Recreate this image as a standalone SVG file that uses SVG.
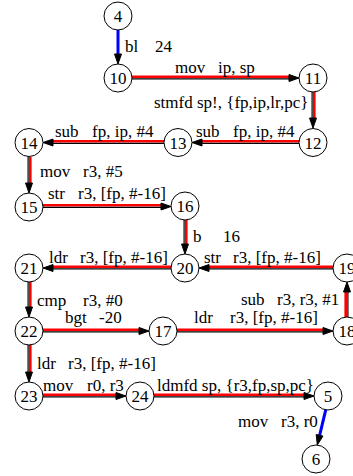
<svg xmlns="http://www.w3.org/2000/svg" width="353" height="476" viewBox="0 0 353 476">
<style>
.n circle{fill:#fff;stroke:#000;stroke-width:1}
.n text{font-family:"Liberation Serif","Times New Roman",serif;font-size:17px;text-anchor:middle;fill:#000}
.lbl{font-family:"Liberation Serif","Times New Roman",serif;font-size:17px;fill:#000}
.r{stroke:#ff0000;stroke-width:2.6;fill:none}
.k{stroke:#000;stroke-width:1.2;fill:none}
.b{stroke:#0000ff;stroke-width:3;fill:none}
.a{fill:#000;stroke:#000;stroke-width:1}
</style>
<rect width="353" height="476" fill="#fff"/>
<g id="edges">
<line class="b" x1="118" y1="30" x2="118" y2="54"/>
<polygon class="a" points="118,64 114.5,54 121.5,54"/>
<line class="r" x1="132" y1="76.7" x2="289" y2="76.7"/>
<line class="k" x1="132" y1="78.9" x2="289" y2="78.9"/>
<polygon class="a" points="299,78 289,74.5 289,81.5"/>
<line class="k" x1="312.1" y1="92" x2="312.1" y2="118"/>
<line class="r" x1="314.3" y1="92" x2="314.3" y2="118"/>
<polygon class="a" points="313,128 309.5,118 316.5,118"/>
<line class="r" x1="299" y1="141.2" x2="202" y2="141.2"/>
<line class="k" x1="299" y1="143.4" x2="202" y2="143.4"/>
<polygon class="a" points="192,142.5 202,139 202,146"/>
<line class="r" x1="164" y1="141.2" x2="53" y2="141.2"/>
<line class="k" x1="164" y1="143.4" x2="53" y2="143.4"/>
<polygon class="a" points="43,142.5 53,139 53,146"/>
<line class="k" x1="28.1" y1="157" x2="28.1" y2="183"/>
<line class="r" x1="30.3" y1="157" x2="30.3" y2="183"/>
<polygon class="a" points="29,193 25.5,183 32.5,183"/>
<line class="r" x1="43" y1="205.2" x2="161" y2="205.2"/>
<line class="k" x1="43" y1="207.4" x2="161" y2="207.4"/>
<polygon class="a" points="171,206.5 161,203 161,210"/>
<line class="k" x1="184.1" y1="220" x2="184.1" y2="244"/>
<line class="r" x1="186.3" y1="220" x2="186.3" y2="244"/>
<polygon class="a" points="185,254 181.5,244 188.5,244"/>
<line class="r" x1="333" y1="266.7" x2="209" y2="266.7"/>
<line class="k" x1="333" y1="268.9" x2="209" y2="268.9"/>
<polygon class="a" points="199,268 209,264.5 209,271.5"/>
<line class="r" x1="171" y1="266.7" x2="53" y2="266.7"/>
<line class="k" x1="171" y1="268.9" x2="53" y2="268.9"/>
<polygon class="a" points="43,268 53,264.5 53,271.5"/>
<line class="k" x1="28.1" y1="282" x2="28.1" y2="307"/>
<line class="r" x1="30.3" y1="282" x2="30.3" y2="307"/>
<polygon class="a" points="29,317 25.5,307 32.5,307"/>
<line class="r" x1="43" y1="329.7" x2="139" y2="329.7"/>
<line class="k" x1="43" y1="331.9" x2="139" y2="331.9"/>
<polygon class="a" points="149,331 139,327.5 139,334.5"/>
<line class="r" x1="177" y1="329.7" x2="323" y2="329.7"/>
<line class="k" x1="177" y1="331.9" x2="323" y2="331.9"/>
<polygon class="a" points="333,331 323,327.5 323,334.5"/>
<line class="r" x1="345.7" y1="317" x2="345.7" y2="292"/>
<line class="k" x1="347.9" y1="317" x2="347.9" y2="292"/>
<polygon class="a" points="347,282 343.5,292 350.5,292"/>
<line class="k" x1="28.1" y1="345" x2="28.1" y2="372"/>
<line class="r" x1="30.3" y1="345" x2="30.3" y2="372"/>
<polygon class="a" points="29,382 25.5,372 32.5,372"/>
<line class="r" x1="43" y1="394.7" x2="116" y2="394.7"/>
<line class="k" x1="43" y1="396.9" x2="116" y2="396.9"/>
<polygon class="a" points="126,396 116,392.5 116,399.5"/>
<line class="r" x1="154" y1="394.7" x2="304" y2="394.7"/>
<line class="k" x1="154" y1="396.9" x2="304" y2="396.9"/>
<polygon class="a" points="314,396 304,392.5 304,399.5"/>
<line class="b" x1="325.8" y1="409.7" x2="319.6" y2="435.3"/>
<polygon class="a" points="317.3,445 316.2,434.5 323,436.1"/>
</g>
<g id="labels">
<text class="lbl" x="125" y="52">bl<tspan x="155">24</tspan></text>
<text class="lbl" x="175" y="73">mov<tspan x="218">ip, sp</tspan></text>
<text class="lbl" x="154" y="108">stmfd sp!, {fp,ip,lr,pc}</text>
<text class="lbl" x="196" y="137">sub<tspan x="233">fp, ip, #4</tspan></text>
<text class="lbl" x="55" y="137">sub<tspan x="92">fp, ip, #4</tspan></text>
<text class="lbl" x="40" y="177">mov<tspan x="83">r3, #5</tspan></text>
<text class="lbl" x="48" y="199">str<tspan x="78">r3, [fp, #-16]</tspan></text>
<text class="lbl" x="193" y="242">b<tspan x="223">16</tspan></text>
<text class="lbl" x="49" y="263">ldr<tspan x="80">r3, [fp, #-16]</tspan></text>
<text class="lbl" x="204" y="263">str<tspan x="233">r3, [fp, #-16]</tspan></text>
<text class="lbl" x="241" y="305">sub<tspan x="277">r3, r3, #1</tspan></text>
<text class="lbl" x="37" y="306">cmp<tspan x="83">r3, #0</tspan></text>
<text class="lbl" x="65" y="323">bgt<tspan x="99">-20</tspan></text>
<text class="lbl" x="194" y="323">ldr<tspan x="230">r3, [fp, #-16]</tspan></text>
<text class="lbl" x="37" y="369">ldr<tspan x="68">r3, [fp, #-16]</tspan></text>
<text class="lbl" x="43" y="391">mov<tspan x="87">r0, r3</tspan></text>
<text class="lbl" x="157" y="391">ldmfd sp, {r3,fp,sp,pc}</text>
<text class="lbl" x="238" y="427">mov<tspan x="281">r3, r0</tspan></text>
</g>
<g id="n4" class="n"><circle cx="118" cy="16" r="14"/><text x="118" y="22">4</text></g>
<g id="n10" class="n"><circle cx="118" cy="78" r="14"/><text x="118" y="84">10</text></g>
<g id="n11" class="n"><circle cx="313" cy="78" r="14"/><text x="313" y="84">11</text></g>
<g id="n12" class="n"><circle cx="313" cy="142.5" r="14"/><text x="313" y="148.5">12</text></g>
<g id="n13" class="n"><circle cx="178" cy="142.5" r="14"/><text x="178" y="148.5">13</text></g>
<g id="n14" class="n"><circle cx="29" cy="142.5" r="14"/><text x="29" y="148.5">14</text></g>
<g id="n15" class="n"><circle cx="29" cy="207" r="14"/><text x="29" y="213">15</text></g>
<g id="n16" class="n"><circle cx="185" cy="206" r="14"/><text x="185" y="212">16</text></g>
<g id="n20" class="n"><circle cx="185" cy="268" r="14"/><text x="185" y="274">20</text></g>
<g id="n21" class="n"><circle cx="29" cy="268" r="14"/><text x="29" y="274">21</text></g>
<g id="n19" class="n"><circle cx="347" cy="268" r="14"/><text x="347" y="274">19</text></g>
<g id="n18" class="n"><circle cx="347" cy="331" r="14"/><text x="347" y="337">18</text></g>
<g id="n17" class="n"><circle cx="163" cy="331" r="14"/><text x="163" y="337">17</text></g>
<g id="n22" class="n"><circle cx="29" cy="331" r="14"/><text x="29" y="337">22</text></g>
<g id="n23" class="n"><circle cx="29" cy="396" r="14"/><text x="29" y="402">23</text></g>
<g id="n24" class="n"><circle cx="140" cy="396" r="14"/><text x="140" y="402">24</text></g>
<g id="n5" class="n"><circle cx="328" cy="396" r="14"/><text x="328" y="402">5</text></g>
<g id="n6" class="n"><circle cx="316" cy="459" r="14"/><text x="316" y="465">6</text></g>
</svg>
